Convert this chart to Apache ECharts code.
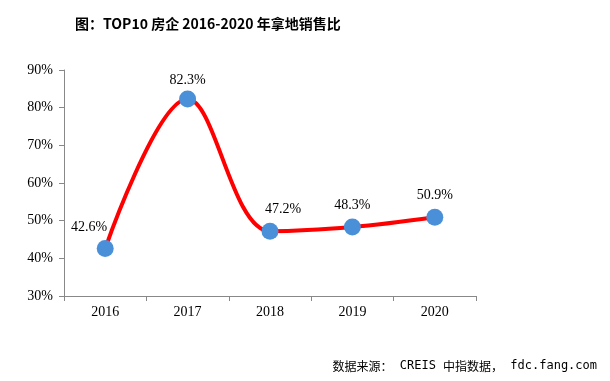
<!DOCTYPE html>
<html><head><meta charset="utf-8">
<script src="https://cdn.jsdelivr.net/npm/echarts@6/dist/echarts.min.js"></script>
<style>html,body{margin:0;padding:0;background:#fff}#c{width:610px;height:381px}</style>
</head><body><div id="c"></div>
<script>
const categories = ['2016', '2017', '2018', '2019', '2020'];
const ratioValues = [42.6, 82.3, 47.2, 48.3, 50.9];
const yTicks = [30, 40, 50, 60, 70, 80, 90];

const chart = echarts.init(document.getElementById('c'), null, {renderer: 'canvas'});
const serif = '"Liberation Serif","Times New Roman",serif';
const labelOffsets = [[-16, 0], [0, 3], [13, 0], [0, 0], [0, 0]];
const data = ratioValues.map((v, i) => ({value: v, label: {offset: labelOffsets[i]}}));
chart.setOption({
  animation: false,
  backgroundColor: '#fff',
  title: [{
    text: '图：TOP10 房企 2016-2020 年拿地销售比',
    left: 70, top: 12,
    textStyle: {fontFamily: '"Noto Sans CJK SC"', fontWeight: 'bold', fontSize: 14, color: '#000'}
  }, {
    text: '{c|数据来源：}{m| CREIS }{c|中指数据，}{m| fdc.fang.com}',
    right: 8, top: 355,
    textStyle: {
      fontWeight: 'normal',
      rich: {
        c: {fontFamily: '"Noto Sans CJK SC"', fontSize: 12, fontWeight: 'normal', color: '#000'},
        m: {fontFamily: '"DejaVu Sans Mono","Liberation Mono",monospace', fontSize: 12, fontWeight: 'normal', color: '#000'}
      }
    }
  }],
  grid: {left: 64, right: 134, top: 70, bottom: 85},
  xAxis: {
    type: 'category', data: categories, boundaryGap: true,
    axisLine: {lineStyle: {color: '#888', width: 1}},
    axisTick: {show: true, length: 5, alignWithLabel: false, lineStyle: {color: '#888'}},
    axisLabel: {fontFamily: serif, fontSize: 14, color: '#000', margin: 9}
  },
  yAxis: {
    type: 'value', min: yTicks[0], max: yTicks[yTicks.length - 1], interval: 10,
    axisLine: {show: true, lineStyle: {color: '#888', width: 1}},
    axisTick: {show: true, length: 5, lineStyle: {color: '#888'}},
    splitLine: {show: false},
    axisLabel: {fontFamily: serif, fontSize: 14, color: '#000', margin: 11, formatter: v => v + '%'}
  },
  series: [{
    type: 'line', data: data, smooth: 0.35,
    symbol: 'circle', symbolSize: 17,
    lineStyle: {color: '#ff0000', width: 4},
    itemStyle: {color: '#4a90d9'},
    label: {show: true, position: 'top', distance: 6, fontFamily: serif, fontSize: 14, color: '#000',
      formatter: p => p.value.toFixed(1) + '%'}
  }]
});
</script></body></html>
